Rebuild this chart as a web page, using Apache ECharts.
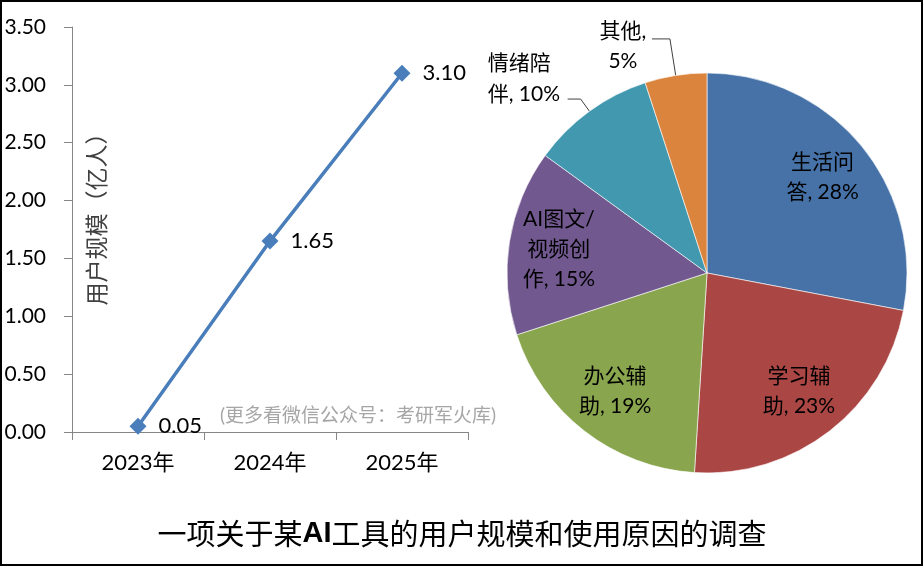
<!DOCTYPE html>
<html><head><meta charset="utf-8">
<script src="https://cdn.jsdelivr.net/npm/echarts@6/dist/echarts.min.js"></script>
<style>html,body{margin:0;padding:0;background:#fff}#main{width:924px;height:567px}</style>
</head><body><div id="main"></div>
<script>
// ---- data ----
const years = ['2023年', '2024年', '2025年'];
const users = [0.05, 1.65, 3.10];
const yMin = 0, yMax = 3.5, yStep = 0.5;
const yAxisName = '用户规模（亿人）';

const reasons = ['生活问答', '学习辅助', '办公辅助', 'AI图文/视频创作', '情绪陪伴', '其他'];
const reasonWrapped = ['生活问\n答', '学习辅\n助', '办公辅\n助', 'AI图文/\n视频创\n作', '情绪陪\n伴', '其他'];
const reasonSep = [', ', ', ', ', ', ', ', ', ', ',\n'];
const shares = [28, 23, 19, 15, 10, 5];
const outsideLabel = [false, false, false, false, true, true];
const sliceColors = ['#4672A7', '#AA4643', '#89A54E', '#71588F', '#4198AF', '#DB843D'];

const titleText = '一项关于某{b|AI}工具的用户规模和使用原因的调查';
const watermark = '(更多看微信公众号：考研军火库)';

// ---- chart ----
const FONT = "Lato, 'Noto Sans CJK SC', sans-serif";
const chart = echarts.init(document.getElementById('main'), null, {renderer: 'canvas'});

const labelTxt = i => reasonWrapped[i] + reasonSep[i] + shares[i] + '%';

const pieMain = shares.map((v, i) => {
  const item = {name: reasons[i], value: v, itemStyle: {color: sliceColors[i]}};
  if (outsideLabel[i]) {
    if (i === 4) {
      item.label = {show: true, position: 'outside', formatter: '{a|情绪陪}\n{a|伴, ' + v + '%}',
        padding: [0, 0, 40, 0],
        rich: {a: {width: 76, align: 'left', fontSize: 21, lineHeight: 31, fontFamily: FONT, color: '#000'}}};
      item.labelLine = {show: true, length: 15, length2: 13};
    } else {
      item.label = {show: true, position: 'outside', formatter: '{a|其他,}\n{a|' + v + '%}',
        padding: [14, 0, 0, 0],
        rich: {a: {width: 50, align: 'center', fontSize: 21, lineHeight: 30, fontFamily: FONT, color: '#000'}}};
      item.labelLine = {show: true, length: 37, length2: 18};
    }
  } else {
    item.label = {show: false};
    item.labelLine = {show: false};
  }
  return item;
});

const pieInner = shares.map((v, i) => ({
  name: reasons[i], value: v,
  label: {show: !outsideLabel[i], formatter: labelTxt(i)}
}));

chart.setOption({
  backgroundColor: '#fff',
  animation: false,
  title: {
    text: titleText, left: 'center', top: 511,
    textStyle: {fontSize: 29, fontWeight: 'normal', color: '#000', fontFamily: "'Noto Sans CJK SC', sans-serif", lineHeight: 36,
      rich: {b: {fontSize: 29, fontWeight: 'bold', color: '#000', fontFamily: "'Liberation Sans', sans-serif", lineHeight: 36}}}
  },
  graphic: [
    {type: 'rect', shape: {x: 1, y: 1, width: 921, height: 564}, style: {fill: 'none', stroke: '#000', lineWidth: 2}, z: 100},
    {type: 'text', left: 220, top: 406, style: {text: watermark, fontSize: 19, fill: '#a6a6a6', fontFamily: FONT}}
  ],
  grid: {left: 72, right: 456, top: 27, bottom: 135, containLabel: false},
  xAxis: {
    type: 'category', data: years, boundaryGap: true,
    axisLine: {lineStyle: {color: '#868686', width: 1}},
    axisTick: {show: true, length: 8, alignWithLabel: false, lineStyle: {color: '#868686'}},
    axisLabel: {fontSize: 22, color: '#000', fontFamily: FONT, margin: 20}
  },
  yAxis: {
    type: 'value', min: yMin, max: yMax, interval: yStep,
    name: yAxisName, nameLocation: 'middle', nameGap: -36, nameMoveOverlap: false,
    nameTextStyle: {fontSize: 23, color: '#404040', fontFamily: "'Noto Sans CJK SC', sans-serif", padding: [0, 0, 0, 32]},
    axisLine: {show: true, lineStyle: {color: '#868686', width: 1}},
    axisTick: {show: true, length: 8, lineStyle: {color: '#868686'}},
    splitLine: {show: false},
    axisLabel: {fontSize: 21, color: '#000', fontFamily: FONT, margin: 26,
      formatter: v => v.toFixed(2)}
  },
  series: [
    {
      type: 'line', data: users,
      symbol: 'diamond', symbolSize: 17,
      lineStyle: {color: '#4A7EBB', width: 3.5},
      itemStyle: {color: '#4A7EBB'},
      label: {show: true, position: 'right', distance: 12, fontSize: 22, color: '#000', fontFamily: FONT,
        formatter: p => p.value.toFixed(2)}
    },
    {
      type: 'pie', center: [707, 273], radius: 200, startAngle: 90, clockwise: true,
      avoidLabelOverlap: false,
      itemStyle: {borderColor: 'rgba(255,255,255,0.6)', borderWidth: 1},
      labelLine: {lineStyle: {color: '#404040', width: 1}},
      label: {fontFamily: FONT, color: '#000', distanceToLabelLine: 4},
      emphasis: {disabled: true},
      data: pieMain
    },
    {
      type: 'pie', center: [707, 273], radius: [94, 200], startAngle: 90, clockwise: true,
      silent: true, avoidLabelOverlap: false,
      itemStyle: {color: 'rgba(0,0,0,0)', borderWidth: 0},
      label: {position: 'inside', fontSize: 21, lineHeight: 30, color: '#000', fontFamily: FONT},
      labelLine: {show: false},
      emphasis: {disabled: true},
      data: pieInner
    }
  ]
});
</script>
</body></html>
